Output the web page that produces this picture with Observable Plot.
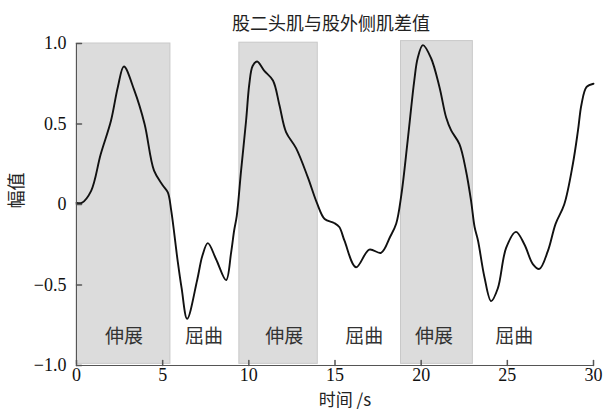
<!DOCTYPE html>
<html><head><meta charset="utf-8">
<script src="https://cdn.jsdelivr.net/npm/d3@7"></script>
<script src="https://cdn.jsdelivr.net/npm/@observablehq/plot@0.6"></script>
<style>body{margin:0;background:#fff} svg text.num{font-family:"Liberation Serif","Times New Roman",Tinos,"DejaVu Serif",serif}</style>
</head><body><div id="chart"></div>
<script>
const time = [0,0.3,0.85,1.4,2.0,2.4,2.75,3.35,3.95,4.5,5.0,5.3,5.5,5.87,6.1,6.42,7.0,7.3,7.62,8.1,8.68,8.97,9.15,9.3,9.55,9.84,10.03,10.22,10.48,10.9,11.4,11.77,12.16,12.74,13.42,13.95,14.4,14.95,15.25,15.55,16.22,16.99,17.67,18.2,18.55,18.85,19.22,19.6,19.8,20.1,20.57,21.06,21.45,21.74,22.22,22.6,22.9,23.1,23.3,23.67,24.06,24.45,24.93,25.5,26.0,26.48,26.86,27.35,27.8,28.3,28.8,29.1,29.3,29.6,30];
const value = [0.01,0.01,0.085,0.31,0.52,0.73,0.857,0.71,0.50,0.21,0.12,0.075,-0.04,-0.35,-0.52,-0.71,-0.47,-0.32,-0.24,-0.34,-0.47,-0.30,-0.16,-0.07,0.21,0.52,0.75,0.86,0.888,0.83,0.77,0.62,0.45,0.35,0.17,0.01,-0.09,-0.115,-0.14,-0.225,-0.39,-0.28,-0.30,-0.20,-0.12,0.06,0.40,0.77,0.91,0.99,0.91,0.73,0.54,0.46,0.375,0.21,0.02,-0.14,-0.225,-0.45,-0.60,-0.52,-0.27,-0.17,-0.25,-0.37,-0.40,-0.29,-0.12,0.0,0.25,0.46,0.62,0.73,0.75];
const phaseStart = [0, 9.45, 18.83];
const phaseEnd = [5.45, 14.0, 23.0];
const phaseTop = [1.0, 1.005, 1.015];
const labelX = [2.75, 7.4, 12.05, 16.7, 20.75, 25.4];
const labelText = ["伸展","屈曲","伸展","屈曲","伸展","屈曲"];
const xTicks = [0,5,10,15,20,25,30];
const yTicks = [-1,-0.5,0,0.5,1];
const yTickLabels = ["−1.0","−0.5","0","0.5","1.0"];
const title = "股二头肌与股外侧肌差值";
const xLabel = "时间 /s";
const yLabel = "幅值";

const cjk = "Noto Sans CJK SC";
const series = time.map((t,i)=>({t, v:value[i]}));
const phases = phaseStart.map((s,i)=>({s, e:phaseEnd[i], top:phaseTop[i]}));
const labels = labelX.map((x,i)=>({x, text:labelText[i]}));
const tickShape = {draw(ctx, l){ctx.moveTo(0,0); ctx.lineTo(0,-l);}};

const chart = Plot.plot({
  width:604, height:414, marginLeft:76, marginRight:11, marginTop:43, marginBottom:49,
  style:{fontSize:"18px", color:"#111", background:"#fff"},
  x:{domain:[0,30]}, y:{domain:[-1,1]},
  marks:[
    Plot.rectY(phases, {x1:"s", x2:"e", y1:-0.99, y2:"top", fill:"#dcdcdc", stroke:"#c9c9c9", strokeWidth:1}),
    Plot.text(labels, {x:"x", y:-0.82, text:"text", fontSize:19, fill:"#333", fontFamily:cjk}),
    Plot.line(series, {x:"t", y:"v", curve:"catmull-rom", stroke:"#111", strokeWidth:1.9}),
    Plot.ruleX([0], {stroke:"#555"}),
    Plot.ruleY([-1], {stroke:"#555"}),
    Plot.vector(yTicks, {x:0, y:d=>d, length:5, rotate:90, anchor:"start", shape:tickShape, stroke:"#555"}),
    Plot.vector(xTicks, {x:d=>d, y:-1, length:5, rotate:0, anchor:"start", shape:tickShape, stroke:"#555"}),
    Plot.axisY(yTicks, {tickSize:0, tickPadding:10, tickFormat:d=>yTickLabels[yTicks.indexOf(d)], fontSize:18, fill:"#111"}),
    Plot.axisX(xTicks, {tickSize:0, tickPadding:3, tickFormat:d=>String(d), fontSize:18, fill:"#111"}),
    Plot.text([title], {frameAnchor:"top", dy:-26, dx:-4, textAnchor:"middle", fontSize:18, fill:"#222", fontFamily:cjk}),
    Plot.text([xLabel], {frameAnchor:"bottom", dy:40, dx:10, textAnchor:"middle", fontSize:17, fill:"#222", fontFamily:cjk}),
    Plot.text([yLabel], {frameAnchor:"left", dx:-59, dy:-14, rotate:-90, textAnchor:"middle", fontSize:18, fill:"#222", fontFamily:cjk})
  ]
});
chart.querySelectorAll("[aria-label^='x-axis tick label'] text, [aria-label^='y-axis tick label'] text").forEach(t => t.classList.add("num"));
document.getElementById("chart").append(chart);
</script>
</body></html>
